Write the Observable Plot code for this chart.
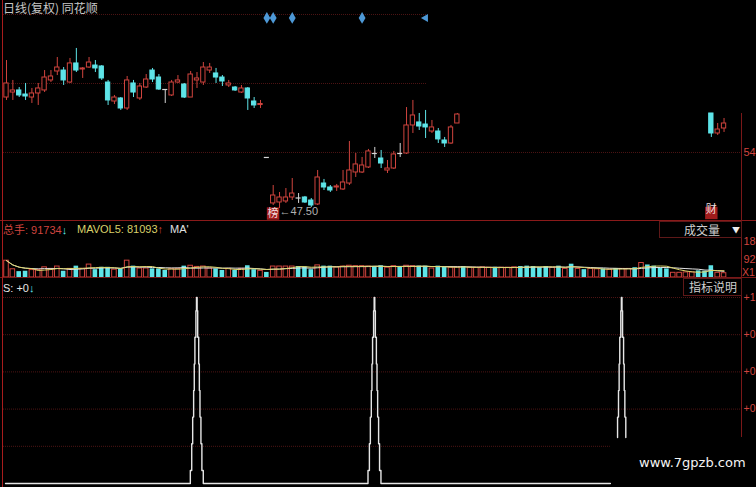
<!DOCTYPE html>
<html><head><meta charset="utf-8">
<script src="https://cdn.jsdelivr.net/npm/d3@7"></script>
<script src="https://cdn.jsdelivr.net/npm/@observablehq/plot@0.6"></script>
<style>
body{margin:0;background:#000;}
#wrap{position:relative;width:756px;height:487px;background:#000;overflow:hidden;font-family:"Liberation Sans","Noto Sans CJK SC",sans-serif;}
#wrap svg{position:absolute;left:0;overflow:hidden;}
.t{position:absolute;font-size:11px;white-space:nowrap;line-height:12px;}
.ln{position:absolute;}
.box{position:absolute;border:1px solid #5e1818;box-sizing:border-box;color:#cfcfcf;font-size:12px;line-height:15px;font-family:"Noto Sans CJK SC",sans-serif;background:#000;}
</style></head><body><div id="wrap"></div>
<script>
// ---- price data (bars 72..110 are off the visible price range) ----
const open = [60.37,60.95,61.19,60.72,60.37,60.84,61.19,62.35,63.39,63.50,
62.11,64.32,63.62,63.85,64.08,63.97,62.11,59.91,60.26,59.10,
62.00,60.26,61.53,63.50,62.69,61.30,60.61,62.11,61.88,60.37,
62.35,62.11,63.50,63.16,62.69,61.77,61.53,60.95,61.42,59.91,
59.50,53.42,48.09,48.20,48.32,48.78,48.72,48.78,48.43,47.97,
50.40,49.94,49.94,49.71,50.40,51.68,51.68,52.26,53.88,53.30,
51.91,52.14,53.88,53.88,57.13,57.48,57.24,56.43,56.43,55.39,
55.04,57.36,
null,null,null,null,null,null,null,null,null,null,null,null,null,null,null,null,null,null,null,null,
null,null,null,null,null,null,null,null,null,null,null,null,null,null,null,null,null,null,null,
58.52,56.20,56.78];
const high = [64.66,62.35,61.53,62.00,61.42,62.00,63.50,63.50,65.01,63.85,
64.90,66.06,63.85,65.01,64.66,64.08,62.35,60.61,60.37,62.81,
62.35,62.00,63.04,63.74,63.04,61.30,62.35,62.92,62.00,63.39,
63.27,64.43,64.32,63.74,62.92,62.35,61.65,61.77,61.53,60.37,
60.03,53.42,50.17,49.36,49.82,50.98,49.24,48.90,48.66,51.91,
50.87,50.17,50.29,51.91,55.27,53.88,53.42,54.35,54.58,54.23,
53.07,54.12,55.04,59.21,60.03,58.52,58.87,57.71,56.78,55.74,
57.13,58.52,
null,null,null,null,null,null,null,null,null,null,null,null,null,null,null,null,null,null,null,null,
null,null,null,null,null,null,null,null,null,null,null,null,null,null,null,null,null,null,null,
58.52,57.36,57.94];
const low = [60.03,60.03,60.37,60.03,59.68,59.45,60.95,62.11,62.92,61.77,
62.00,63.27,62.58,63.74,63.27,62.35,59.45,59.56,58.87,58.87,
60.37,60.03,61.42,62.11,61.19,59.68,60.49,62.00,60.26,60.37,
61.42,61.77,63.16,62.00,61.65,61.53,61.07,60.84,58.87,59.10,
59.10,53.42,47.85,47.50,48.09,48.43,48.09,48.09,47.62,47.85,
49.59,49.36,49.48,49.59,50.17,51.10,51.56,52.14,53.30,52.14,
51.56,52.03,53.42,53.77,56.20,56.55,55.62,56.20,55.04,54.58,
54.93,57.36,
null,null,null,null,null,null,null,null,null,null,null,null,null,null,null,null,null,null,null,null,
null,null,null,null,null,null,null,null,null,null,null,null,null,null,null,null,null,null,null,
55.74,55.97,56.32];
const close = [62.00,61.19,60.61,60.49,60.84,61.42,62.69,62.81,63.85,62.35,
64.32,63.50,63.74,64.43,63.74,62.58,60.03,60.37,59.10,62.35,
60.95,61.65,62.46,62.46,61.30,61.30,62.11,62.35,60.37,63.04,
62.58,63.85,63.85,62.69,62.23,62.00,61.19,61.42,60.26,59.45,
59.62,53.42,49.01,48.78,48.78,49.24,48.72,48.20,47.85,51.10,
49.94,49.59,50.06,50.52,51.91,52.61,52.49,54.12,53.88,52.72,
52.14,53.77,53.88,57.13,58.29,57.01,56.90,56.90,55.51,55.04,
56.90,58.40,
null,null,null,null,null,null,null,null,null,null,null,null,null,null,null,null,null,null,null,null,
null,null,null,null,null,null,null,null,null,null,null,null,null,null,null,null,null,null,null,
56.20,56.66,57.36];
// direction (1 up / -1 down) of bars 72..110
const gapDir = [-1,1,1,1,1,-1,1,1,1,-1,-1,-1,-1,-1,1,-1,1,-1,1,-1,1,1,-1,1,-1,1,1,-1,1,-1,-1,-1,-1,1,1,1,1,-1,-1];
const volume = [86000,42000,30000,32000,38000,38000,52000,44000,56000,32000,
44000,58000,44000,66000,40000,52000,52000,40000,44000,86000,
58000,46000,46000,44000,44000,36000,44000,44000,58000,60000,
54000,56000,46000,44000,36000,44000,36000,44000,60000,40000,
34000,26000,56000,56000,56000,56000,56000,54000,40000,62000,
58000,58000,52000,56000,60000,58000,58000,56000,56000,60000,
50000,58000,56000,60000,58000,58000,58000,46000,58000,54000,
50000,52000,56000,50000,50000,52000,50000,52000,50000,50000,
52000,56000,58000,56000,50000,56000,50000,58000,44000,68000,
44000,40000,44000,42000,44000,40000,46000,44000,44000,50000,
74000,64000,58000,48000,44000,24000,24000,26000,26000,34000,
32000,60000,24000,22000];
const gridPrices = [70, 62, 54];
const priceTicks = [54];
const signalBars = [41, 42, 45, 56];
const signalHalfBars = [66];
const signalPrice = 69.6;
const markLabels = [{bar: 111, text: "财"}];
const volTicks = [184000, 92000];
const volTickLabels = ["18", "92"];
// ---- indicator S (stepped spikes) ----
const spikeCenters = [29.97, 57.95, 96.88];
const stepLevels = [0.07, 0.214, 0.357, 0.5, 0.643, 0.786, 0.929, 1.0];
const stepHalfWidths = [1.02, 0.8, 0.65, 0.5, 0.4, 0.3, 0.14, 0.05];
const sStart = -0.15, sEnd = 95.1, lastSpikeFloor = 0.247;
const sGrid = [1, 0.8, 0.6, 0.4, 0.2];

// ---- build ----
const RED = "#d0443e", CYAN = "#5ee4e8", FLAT = "#d6d6d6", GRID = "#4e1414";
const W = 756, xDomain = [-0.472, 115.75];
const bars = d3.range(volume.length).map(i => {
  const o = open[i], c = close[i];
  const dir = o == null ? gapDir[i - 72] : (c > o ? 1 : c < o ? -1 : 0);
  return {i, o, h: high[i], l: low[i], c, v: volume[i], dir};
});
const candles = bars.filter(d => d.o != null);
const bodies = candles.filter(d => d.dir !== 0);
const flats = candles.filter(d => d.dir === 0);
const col = d => d.dir > 0 ? RED : d.dir < 0 ? CYAN : FLAT;
const wrap = document.getElementById("wrap");
const font = "'Liberation Sans','Noto Sans CJK SC',sans-serif";
const lowBar = d3.least(candles, d => d.l);
const gridStyle = {stroke: GRID, strokeDasharray: "1,1"};

const main = Plot.plot({
  width: W, height: 222, marginLeft: 3, marginRight: 15, marginTop: 0, marginBottom: 0,
  style: {background: "transparent", fontFamily: font, overflow: "visible"},
  x: {domain: xDomain, axis: null},
  y: {domain: [45.88, 71.62], axis: null},
  marks: [
    Plot.ruleY(gridPrices.slice(0, 2), {x1: xDomain[0], x2: 66.3, ...gridStyle}),
    Plot.ruleY(gridPrices.slice(2), gridStyle),
    Plot.ruleX(candles, {x: "i", y1: "l", y2: "h", stroke: col, strokeWidth: 1}),
    Plot.rect(bodies, {x1: d => d.i - 0.34, x2: d => d.i + 0.34, y1: "o", y2: "c",
      fill: d => d.dir > 0 ? "#000" : CYAN, stroke: col, strokeWidth: 1}),
    Plot.ruleY(flats, {y: "c", x1: d => d.i - 0.4, x2: d => d.i + 0.4, stroke: FLAT, strokeWidth: 1.2}),
    Plot.dot(signalBars, {x: d => d, y: signalPrice, symbol: "diamond", r: 3.6, fill: "#4d98d6"}),
    Plot.dot(signalHalfBars, {x: d => d, y: signalPrice, symbol: "triangle", rotate: -90, r: 3, fill: "#4d98d6"}),
    Plot.axisY(priceTicks, {anchor: "right", tickSize: 0, tickPadding: 2, fill: RED, fontSize: 11, tickFormat: d => String(d), label: null}),
    Plot.dot([lowBar], {x: "i", y: "l", dx: -6.5, dy: 5, symbol: "square", r: 7, fill: "#a01c1c"}),
    Plot.text([lowBar], {x: "i", y: "l", dx: -6.5, dy: 5, text: () => "榜", fill: "#f2dede", fontSize: 11}),
    Plot.text([lowBar], {x: "i", y: "l", dy: 3, text: d => "←" + d.l.toFixed(2), textAnchor: "start", fill: "#b0b0b0", fontSize: 11}),
    Plot.dot(markLabels, {x: "bar", frameAnchor: "bottom", dy: -9.5, symbol: "square", r: 7, fill: "#a01c1c"}),
    Plot.text(markLabels, {x: "bar", frameAnchor: "bottom", dy: -9.5, text: "text", fill: "#f2dede", fontSize: 11})
  ]
});
main.style.top = "0px";
wrap.appendChild(main);

const vol = Plot.plot({
  width: W, height: 60, marginLeft: 3, marginRight: 15, marginTop: 0, marginBottom: 3,
  style: {background: "transparent", fontFamily: font, overflow: "visible"},
  x: {domain: xDomain, axis: null},
  y: {domain: [0, 291300], axis: null},
  marks: [
    Plot.rectY(bars, {x1: d => d.i - 0.36, x2: d => d.i + 0.36, y: "v",
      fill: d => d.dir > 0 ? "#000" : CYAN, stroke: d => d.dir > 0 ? RED : "none", strokeWidth: 1}),
    Plot.lineY(bars, Plot.windowY({k: 10, anchor: "end"}, {x: "i", y: "v", stroke: "#e4e4e4", strokeWidth: 1})),
    Plot.lineY(bars, Plot.windowY({k: 5, anchor: "end"}, {x: "i", y: "v", stroke: "#dcd46c", strokeWidth: 1})),
    Plot.axisY(volTicks, {anchor: "right", tickSize: 0, tickPadding: 2, fill: RED, fontSize: 11, tickFormat: d => volTickLabels[volTicks.indexOf(d)], label: null})
  ]
});
vol.style.top = "220px";
wrap.appendChild(vol);

function spike(c, floor) {
  const left = [], right = [];
  stepLevels.forEach((top, k) => {
    const bottom = k === 0 ? 0 : stepLevels[k - 1];
    if (top <= floor) return;
    const b = Math.max(bottom, floor), hw = stepHalfWidths[k];
    left.push([c - hw, b], [c - hw, top]);
    right.unshift([c + hw, top], [c + hw, b]);
  });
  return left.concat(right);
}
const sLine = [[sStart, 0], ...spike(spikeCenters[0], 0), ...spike(spikeCenters[1], 0), [sEnd, 0]].map(p => [...p, "a"]);
const sLast = spike(spikeCenters[2], lastSpikeFloor).map(p => [...p, "b"]);

const ind = Plot.plot({
  width: W, height: 210, marginLeft: 3, marginRight: 15, marginTop: 20, marginBottom: 4,
  style: {background: "transparent", fontFamily: font, overflow: "visible"},
  x: {domain: xDomain, axis: null},
  y: {domain: [0, 1], axis: null},
  marks: [
    Plot.ruleY(sGrid.slice(0, 4), gridStyle),
    Plot.ruleY(sGrid.slice(4), {x1: xDomain[0], x2: sEnd, ...gridStyle}),
    Plot.line(sLine.concat(sLast), {x: d => d[0], y: d => d[1], z: d => d[2], stroke: "#e6e6e6", strokeWidth: 1.4}),
    Plot.axisY(sGrid.slice(0, 4), {anchor: "right", tickSize: 0, tickPadding: 2, fill: RED, fontSize: 10.5, tickFormat: d => "+" + Math.trunc(d), label: null})
  ]
});
ind.style.top = "277px";
wrap.appendChild(ind);

// ---- frame lines, headers and legends ----
const html = `
<div class="ln" style="left:0;top:220px;width:756px;height:1px;background:#8a1a1a"></div>
<div class="ln" style="left:0;top:277px;width:756px;height:1px;background:#7a1818"></div>
<div class="ln" style="left:2px;top:0;width:1px;height:487px;background:#a81c1c"></div>
<div class="ln" style="left:741px;top:113px;width:1px;height:324px;background:#7a1818"></div>
<div class="t" style="left:3px;top:2px;font-size:12px;color:#c6c6c6;font-family:'Noto Sans CJK SC',sans-serif">日线(复权) 同花顺</div>
<div class="t" style="left:3px;top:223px;color:#d0443e"><span style="font-family:'Noto Sans CJK SC'">总手</span>: 91734<span style="color:${CYAN};font-weight:bold">↓</span></div>
<div class="t" style="left:77px;top:223px;color:#d8d06a">MAVOL5: 81093<span style="color:#d0443e;font-weight:bold">↑</span></div>
<div class="t" style="left:170px;top:223px;color:#e0e0e0">MA'</div>
<div class="box" style="left:659px;top:221px;width:83px;height:17px;padding-left:24px">成交量<span style="position:absolute;left:72px;top:0;font-size:8px;color:#eee">▼</span></div>
<div class="t" style="left:742px;top:266px;font-size:10.5px;color:#d0443e">X1</div>
<div class="t" style="left:3px;top:282px;color:#e6e6e6">S: +0<span style="color:${CYAN};font-weight:bold">↓</span></div>
<div class="box" style="left:683px;top:278px;width:59px;height:18px;padding-left:5px">指标说明</div>
<div class="t" style="left:639px;top:457px;font-size:13px;color:#f4f4f4;font-family:'DejaVu Sans',sans-serif">www.7gpzb.com</div>`;
wrap.insertAdjacentHTML("beforeend", html);
</script></body></html>
